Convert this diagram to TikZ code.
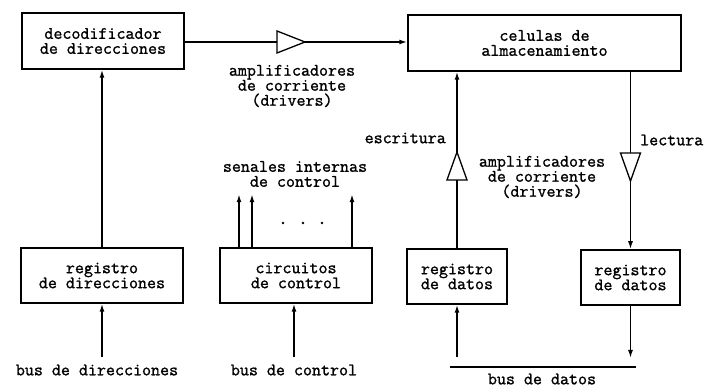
\documentclass[tikz,border=0pt]{standalone}
\usepackage{fontspec}
\setmonofont{Latin Modern Mono}[FakeBold=1.2]
\usetikzlibrary{arrows.meta, positioning}

\tikzset{
    caja/.style={draw, line width=1.5pt, align=center, inner sep=0pt, font=\ttfamily\fontsize{17.5}{15}\selectfont},
    texto/.style={align=center, inner sep=0pt, font=\ttfamily\fontsize{17.5}{15}\selectfont},
    flecha/.style={line width=1.5pt, -{Latex[length=8pt,width=5pt]}},
    amp/.style={draw, line width=1.3pt, fill=white, line join=miter},
}

\begin{document}
\begin{tikzpicture}[x=1pt, y=-1pt]
        \useasboundingbox (0,0) rectangle (705,387);

        \node[caja, minimum width=162, minimum height=56] (decod) at (103,41) {decodificador\\de direcciones};
        \node[caja, minimum width=273, minimum height=56] (celulas) at (544.5,43) {celulas de\\almacenamiento};
        \node[caja, minimum width=162, minimum height=55] (regdir) at (102,275.5) {registro\\de direcciones};
        \node[caja, minimum width=152, minimum height=55] (circ) at (296,275.5) {circuitos\\de control};
        \node[caja, minimum width=100, minimum height=55] (regdat1) at (457,276.5) {registro\\de datos};
        \node[caja, minimum width=99, minimum height=55] (regdat2) at (630.5,277.5) {registro\\de datos};

        \coordinate (ampA) at (291,42);
        \coordinate (ampE) at (457,166);
        \coordinate (ampL) at (630.5,167);
        \coordinate (busdir) at (102,357);
        \coordinate (buscon) at (294,357);
        \coordinate (busA) at (450,367);
        \coordinate (busB) at (636,367);
        \coordinate (entra) at (457,357);
        \coordinate (sale) at (630.5,358);

        \draw[flecha] (decod.east |- ampA) -- (ampA -| celulas.west);
        \draw[amp] (ampA) ++(-14,-11) -- ++(28,11) -- ++(-28,11) -- cycle;
        \node[texto] (ampAt) at (292,86) {amplificadores\\de corriente\\(drivers)};

        \draw[flecha] (regdir.north) -- (regdir.north |- decod.south);
        \draw[flecha] (busdir) -- (regdir.south);
        \node[texto] (lbusdir) at (97,370) {bus de direcciones};

        \foreach \x in {239,252,352}
            \draw[flecha] (\x,0 |- circ.north) -- ++(0,-53);
        \foreach \x in {283,303,322}
            \fill (\x,223) circle (1.4);
        \node[texto] (senales) at (295,174) {senales internas\\de control};
        \draw[flecha] (buscon) -- (buscon |- circ.south);
        \node[texto] (lbuscon) at (294,370) {bus de control};

        \draw[flecha] (regdat1.north) -- (regdat1.north |- celulas.south);
        \draw[amp] (ampE) ++(0,-14) -- ++(10,28) -- ++(-20,0) -- cycle;
        \node[texto, anchor=east] (escr) at (446,138) {escritura};

        \draw[flecha] (celulas.south -| regdat2.north) -- (regdat2.north);
        \draw[amp] (ampL) ++(0,14) -- ++(10,-28) -- ++(-20,0) -- cycle;
        \node[texto, anchor=west] (lect) at (640,140) {lectura};
        \node[texto] (ampLt) at (542,177) {amplificadores\\de corriente\\(drivers)};

        \draw[line width=1.5pt] (busA) -- (busB);
        \draw[flecha] (entra) -- (regdat1.south);
        \draw[flecha] (regdat2.south) -- (sale);
        \node[texto] (lbusdat) at (542,379) {bus de datos};
\end{tikzpicture}
\end{document}
